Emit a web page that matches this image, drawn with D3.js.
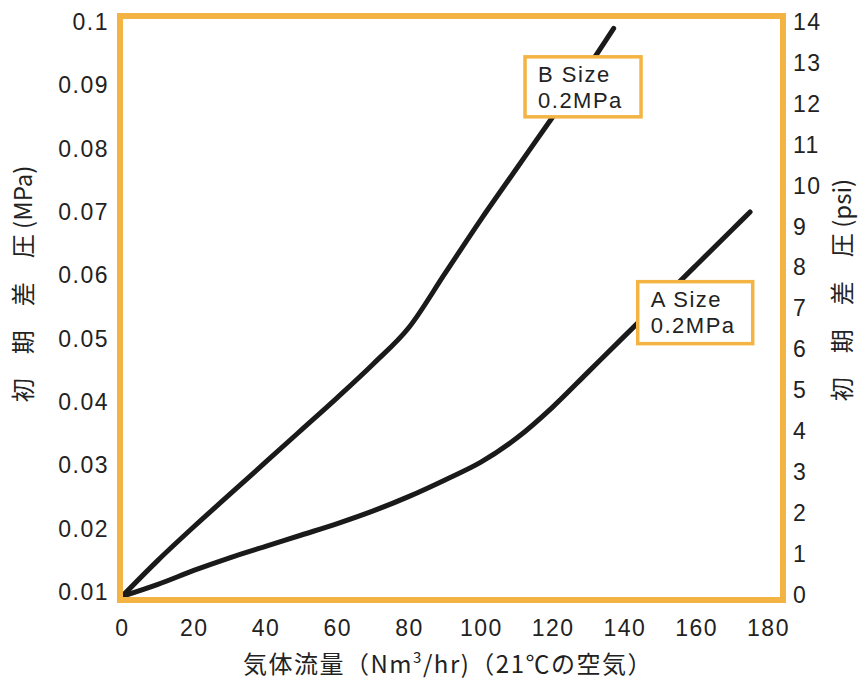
<!DOCTYPE html>
<html>
<head>
<meta charset="utf-8">
<script src="https://cdn.jsdelivr.net/npm/d3@7"></script>
<style>
  body { margin: 0; background: #fff; }
  text { fill: #222; }
</style>
</head>
<body>
<div id="chart"></div>
<script>
// flow (Nm3/hr) vs initial differential pressure (MPa)
var flowB = [0, 10, 20, 30, 40, 50, 60, 70, 80, 90, 100, 110, 120, 130, 137];
var presB = [0.0093, 0.0150, 0.0203, 0.0254, 0.0305, 0.0356, 0.0407, 0.0460, 0.0518, 0.0603, 0.0688, 0.0769, 0.0850, 0.0930, 0.0990];

var flowA = [0, 10, 20, 30, 40, 50, 60, 70, 80, 90, 100, 110, 120, 130, 140, 150, 160, 170, 175];
var presA = [0.0093, 0.0112, 0.0134, 0.0154, 0.0172, 0.0190, 0.0208, 0.0228, 0.0251, 0.0277, 0.0305, 0.0343, 0.0392, 0.0448, 0.0504, 0.0560, 0.0616, 0.0672, 0.0700];

var xTicks = [0, 20, 40, 60, 80, 100, 120, 140, 160, 180];
var mpaTicks = [0.01, 0.02, 0.03, 0.04, 0.05, 0.06, 0.07, 0.08, 0.09, 0.1];
var psiTicks = [0, 1, 2, 3, 4, 5, 6, 7, 8, 9, 10, 11, 12, 13, 14];

var labelB = ["B Size", "0.2MPa"];
var labelA = ["A Size", "0.2MPa"];

var svgWidth = 868;
var svgHeight = 681;
var plot = ({left: 120, right: 783, top: 16, bottom: 600});
var orange = "#f4b443";
var font = "'Liberation Sans', Arial, Helvetica, sans-serif";
var jpFont = "'Noto Sans CJK JP', sans-serif";

var svg = d3.select("#chart")
    .append("svg")
    .attr("width", svgWidth)
    .attr("height", svgHeight);

var xScale = d3.scaleLinear().domain([0, 180]).range([122, 768]);
var yScale = d3.scaleLinear().domain([0.01, 0.1]).range([592, 22]);
var psiScale = d3.scaleLinear().domain([0, 14]).range([595, 22]);

var line = d3.line()
    .x(d => xScale(d[0]))
    .y(d => yScale(d[1]))
    .curve(d3.curveMonotoneX);

var seriesB = flowB.map((f, i) => [f, presB[i]]);
var seriesA = flowA.map((f, i) => [f, presA[i]]);

svg.selectAll(".curve")
    .data([seriesB, seriesA])
    .enter()
    .append("path")
    .classed("curve", true)
    .attr("d", line)
    .attr("fill", "none")
    .attr("stroke", "#1a1a1a")
    .attr("stroke-width", 5)
    .attr("stroke-linecap", "round");

// orange frame
svg.append("rect")
    .attr("x", plot.left)
    .attr("y", plot.top)
    .attr("width", plot.right - plot.left)
    .attr("height", plot.bottom - plot.top)
    .attr("fill", "none")
    .attr("stroke", orange)
    .attr("stroke-width", 6);

// axes, labels only
function styleAxis(g) {
    g.select(".domain").remove();
    g.selectAll("text")
        .attr("font-family", font)
        .attr("font-size", 23)
        .attr("letter-spacing", 1.5)
        .attr("fill", "#222");
}

svg.append("g")
    .attr("transform", "translate(0," + plot.bottom + ")")
    .call(d3.axisBottom(xScale).tickValues(xTicks).tickSize(0).tickPadding(20))
    .call(styleAxis);

svg.append("g")
    .attr("transform", "translate(" + plot.left + ",0)")
    .call(d3.axisLeft(yScale).tickValues(mpaTicks).tickSize(0).tickPadding(11)
        .tickFormat(d => String(+d.toFixed(2))))
    .call(styleAxis);

svg.append("g")
    .attr("transform", "translate(" + plot.right + ",0)")
    .call(d3.axisRight(psiScale).tickValues(psiTicks).tickSize(0).tickPadding(10))
    .call(styleAxis);

// axis titles
var xTitle = svg.append("text")
    .attr("x", 448)
    .attr("y", 673)
    .attr("text-anchor", "middle")
    .attr("font-family", jpFont)
    .attr("font-size", 24)
    .attr("letter-spacing", 1.5);
xTitle.append("tspan").text("気体流量（Nm");
xTitle.append("tspan").attr("dy", -10).attr("font-size", 15).text("3");
xTitle.append("tspan").attr("dy", 10).text("/hr)（21℃の空気）");

svg.append("text")
    .attr("transform", "translate(32,284) rotate(-90)")
    .attr("text-anchor", "middle")
    .attr("font-family", jpFont)
    .attr("font-size", 24)
    .text("初　期　差　圧 (MPa)");

svg.append("text")
    .attr("transform", "translate(851,290) rotate(-90)")
    .attr("text-anchor", "middle")
    .attr("font-family", jpFont)
    .attr("font-size", 24)
    .text("初　期　差　圧 (psi)");

// size annotations
function annotate(lines, x0, y0, w, h) {
    var g = svg.append("g").attr("transform", "translate(" + x0 + "," + y0 + ")");
    g.append("rect")
        .attr("width", w)
        .attr("height", h)
        .attr("fill", "#fff")
        .attr("stroke", orange)
        .attr("stroke-width", 3.5);
    g.selectAll("text")
        .data(lines)
        .enter()
        .append("text")
        .attr("x", 13)
        .attr("y", (d, i) => 25 + i * 26)
        .attr("font-family", font)
        .attr("font-size", 22)
        .attr("letter-spacing", 1.5)
        .text(d => d);
}

annotate(labelB, xScale(112.3), yScale(0.0945), 116, 60);
annotate(labelA, xScale(143.7), yScale(0.0590), 115, 62);
</script>
</body>
</html>
